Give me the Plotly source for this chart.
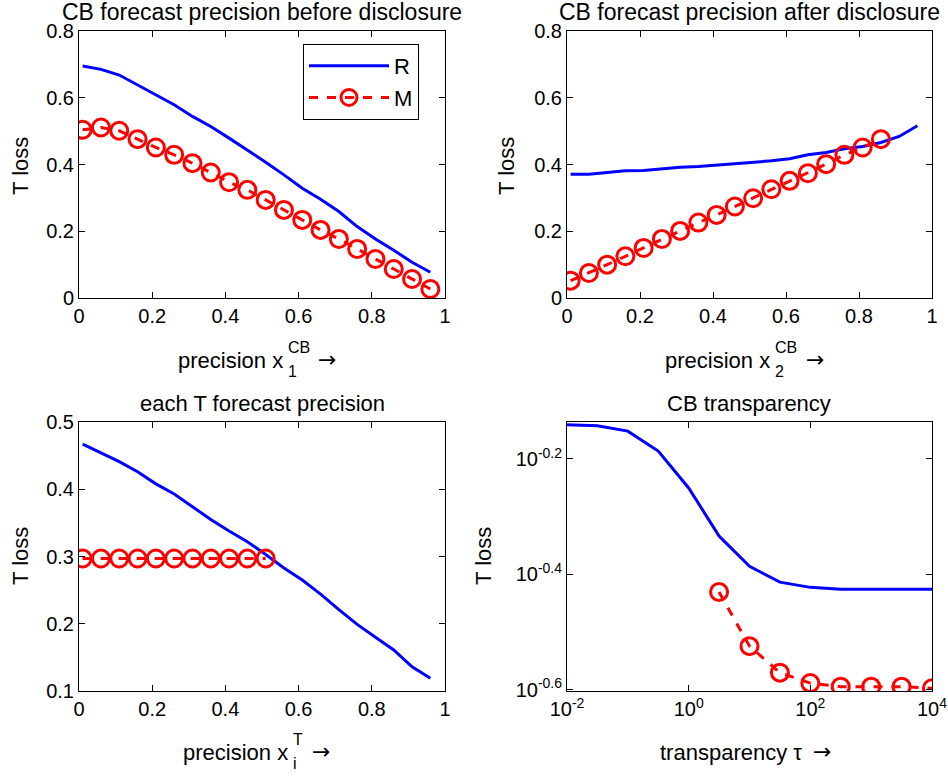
import math
import plotly.graph_objects as go

W, H = 948, 776
FONT = "Liberation Sans, Arial, sans-serif"

# ---------------- data ----------------
# Panel 1: CB forecast precision before disclosure
x_prec = [0.01, 0.06, 0.11, 0.16, 0.21, 0.26, 0.31, 0.36, 0.41, 0.46,
          0.51, 0.56, 0.61, 0.66, 0.71, 0.76, 0.81, 0.86, 0.91, 0.96]
r_before = [0.695, 0.685, 0.668, 0.638, 0.608, 0.579, 0.544, 0.514, 0.479, 0.444,
            0.407, 0.369, 0.329, 0.296, 0.259, 0.214, 0.177, 0.143, 0.107, 0.077]
m_before = [0.504, 0.511, 0.501, 0.476, 0.451, 0.429, 0.404, 0.376, 0.347, 0.324,
            0.294, 0.264, 0.234, 0.204, 0.177, 0.147, 0.117, 0.087, 0.057, 0.027]

# Panel 2: CB forecast precision after disclosure
r_after = [0.371, 0.371, 0.376, 0.381, 0.382, 0.387, 0.392, 0.394, 0.398, 0.402,
           0.406, 0.411, 0.417, 0.429, 0.436, 0.447, 0.454, 0.466, 0.484, 0.516]
x_after_m = [0.01, 0.06, 0.11, 0.16, 0.21, 0.26, 0.31, 0.36, 0.41, 0.46,
             0.51, 0.56, 0.61, 0.66, 0.71, 0.76, 0.81, 0.86]
m_after = [0.052, 0.075, 0.100, 0.125, 0.150, 0.177, 0.201, 0.226, 0.249, 0.274,
           0.299, 0.326, 0.351, 0.374, 0.401, 0.429, 0.451, 0.476]

# Panel 3: each T forecast precision
r_T = [0.467, 0.454, 0.441, 0.426, 0.408, 0.393, 0.374, 0.355, 0.338, 0.322,
       0.303, 0.283, 0.265, 0.244, 0.221, 0.199, 0.180, 0.161, 0.136, 0.119]
x_T_m = [0.01, 0.06, 0.11, 0.16, 0.21, 0.26, 0.31, 0.36, 0.41, 0.46, 0.51]
m_T = [0.297, 0.297, 0.297, 0.297, 0.297, 0.297, 0.297, 0.297, 0.297, 0.297, 0.297]

# Panel 4: CB transparency (log-log)
tau = [0.01, 0.0316, 0.1, 0.316, 1, 3.16, 10, 31.6, 100, 316, 1000, 3162, 10000]
r_tau = [0.723, 0.720, 0.705, 0.651, 0.562, 0.464, 0.411, 0.386, 0.378, 0.375,
         0.375, 0.375, 0.375]
tau_m = [3.16, 10, 31.6, 100, 316, 1000, 3162, 10000]
m_tau = [0.371, 0.299, 0.269, 0.258, 0.2544, 0.2544, 0.2544, 0.2528]

lin_ticks = [0, 0.2, 0.4, 0.6, 0.8, 1]
lin_ticktext = ["0", "0.2", "0.4", "0.6", "0.8", "1"]
y12_ticks = [0, 0.2, 0.4, 0.6, 0.8]
y12_text = ["0", "0.2", "0.4", "0.6", "0.8"]
y3_ticks = [0.1, 0.2, 0.3, 0.4, 0.5]
y3_text = ["0.1", "0.2", "0.3", "0.4", "0.5"]
x4_ticks = [0.01, 1, 100, 10000]
x4_text = ["10<sup>-2</sup>", "10<sup>0</sup>", "10<sup>2</sup>", "10<sup>4</sup>"]
y4_ticks = [10 ** -0.2, 10 ** -0.4, 10 ** -0.6]
y4_text = ["10<sup>-0.2</sup>", "10<sup>-0.4</sup>", "10<sup>-0.6</sup>"]

BLUE = "#0000FF"
RED = "#FF0000"
LW = 3

fig = go.Figure()


def add_pair(xr, yr, xm, ym, xa, ya, legend):
    fig.add_trace(go.Scatter(x=xr, y=yr, mode="lines", name="R",
                             line=dict(color=BLUE, width=LW),
                             xaxis=xa, yaxis=ya, showlegend=legend))
    fig.add_trace(go.Scatter(x=xm, y=ym, mode="lines+markers", name="M",
                             line=dict(color=RED, width=LW, dash="dash"),
                             marker=dict(symbol="circle-open", size=17,
                                         line=dict(color=RED, width=3)),
                             xaxis=xa, yaxis=ya, showlegend=legend))


add_pair(x_prec, r_before, x_prec, m_before, "x", "y", True)
add_pair(x_prec, r_after, x_after_m, m_after, "x2", "y2", False)
add_pair(x_prec, r_T, x_T_m, m_T, "x3", "y3", False)
add_pair(tau, r_tau, tau_m, m_tau, "x4", "y4", False)


def px(x):
    return x / W


def py(y):
    return 1 - y / H


axis_common = dict(showline=True, linecolor="black", linewidth=1, mirror="ticks",
                   ticks="inside", ticklen=6, tickcolor="black", tickwidth=1,
                   showgrid=False, zeroline=False, automargin=False,
                   tickfont=dict(family=FONT, size=20, color="black"))

L_dom = [px(79), px(445)]
R_dom = [px(567), px(932)]
T_dom = [py(298), py(31)]
B_dom = [py(691), py(422)]

fig.update_layout(
    xaxis=dict(domain=L_dom, range=[0, 1], tickvals=lin_ticks, ticktext=lin_ticktext,
               anchor="y", **axis_common),
    yaxis=dict(domain=T_dom, range=[0, 0.8], tickvals=y12_ticks, ticktext=y12_text,
               anchor="x", **axis_common),
    xaxis2=dict(domain=R_dom, range=[0, 1], tickvals=lin_ticks, ticktext=lin_ticktext,
                anchor="y2", **axis_common),
    yaxis2=dict(domain=T_dom, range=[0, 0.8], tickvals=y12_ticks, ticktext=y12_text,
                anchor="x2", **axis_common),
    xaxis3=dict(domain=L_dom, range=[0, 1], tickvals=lin_ticks, ticktext=lin_ticktext,
                anchor="y3", **axis_common),
    yaxis3=dict(domain=B_dom, range=[0.1, 0.5], tickvals=y3_ticks, ticktext=y3_text,
                anchor="x3", **axis_common),
    xaxis4=dict(domain=R_dom, type="log", range=[-2, 4], tickvals=x4_ticks,
                ticktext=x4_text, anchor="y4", **axis_common),
    yaxis4=dict(domain=B_dom, type="log", range=[math.log10(0.25), -0.136],
                tickvals=y4_ticks, ticktext=y4_text, anchor="x4", **axis_common),
)

fig.update_layout(
    width=W, height=H,
    margin=dict(l=0, r=0, t=0, b=0, autoexpand=False),
    paper_bgcolor="white", plot_bgcolor="white",
    font=dict(family=FONT, color="black"),
    legend=dict(x=px(303), y=py(44), xanchor="left", yanchor="top",
                bordercolor="black", borderwidth=1, bgcolor="white",
                font=dict(family=FONT, size=22, color="black"),
                itemwidth=80, tracegroupgap=0),
)

ann = []


def text(x, y, s, size=22, xanchor="center", angle=0, family=FONT):
    ann.append(dict(x=px(x), y=py(y), xref="paper", yref="paper", text=s,
                    showarrow=False, xanchor=xanchor, yanchor="middle",
                    textangle=angle,
                    font=dict(family=family, size=size, color="black")))


# titles
text(262, 12, "CB forecast precision before disclosure", 23)
text(749, 12, "CB forecast precision after disclosure", 23)
text(262, 403, "each T forecast precision", 22)
text(749, 403, "CB transparency", 22)

# y labels
text(20, 166, "T loss", 22, angle=-90)
text(506, 166, "T loss", 22, angle=-90)
text(20, 556, "T loss", 22, angle=-90)
text(483, 556, "T loss", 22, angle=-90)

ARROW_FONT = "DejaVu Sans, sans-serif"


# x labels with stacked sub/superscripts
def xlabel(xr, y, sup, sub, arrow_x):
    text(xr, y, "precision x", 22, xanchor="right")
    text(xr + 1, y - 13, sup, 16, xanchor="left")
    text(xr + 1, y + 11, sub, 16, xanchor="left")
    text(arrow_x, y - 1, "\u2192", 22, xanchor="left", family=ARROW_FONT)


xlabel(285, 360, "CB", "1", 316)
xlabel(772, 360, "CB", "2", 804)
xlabel(290, 752, "T", "i", 310)
text(731, 752, "transparency \u03c4", 22)
text(811, 751, "\u2192", 22, xanchor="left", family=ARROW_FONT)

fig.update_layout(annotations=ann)

fig.write_html("out.html",
               config={"displayModeBar": False},
               post_script="document.body.style.margin='0';"
                           "document.body.style.overflow='hidden';")
